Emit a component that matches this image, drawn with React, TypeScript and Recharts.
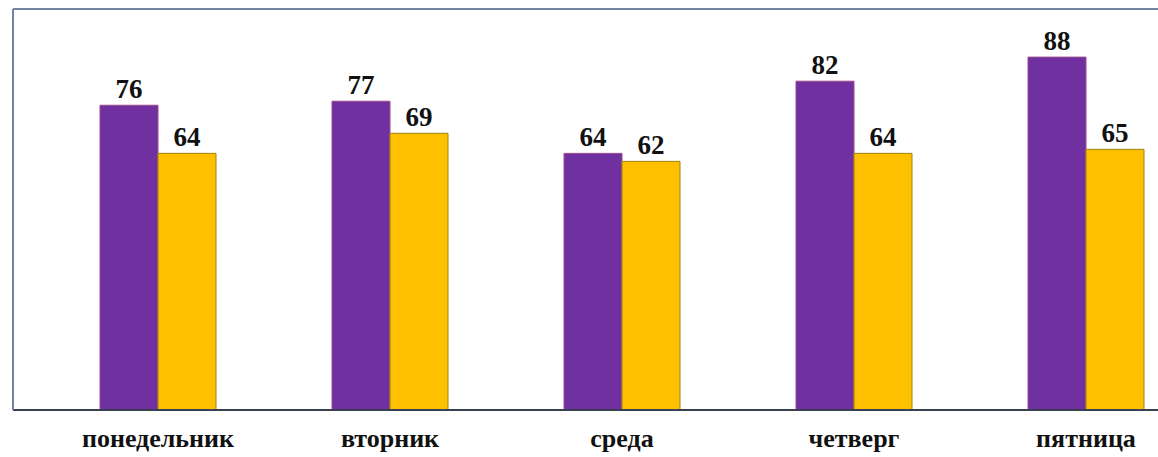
import React from "react";
import { BarChart, Bar, XAxis, YAxis, LabelList } from "recharts";

// days of the week, two series per day
const days = ["понедельник", "вторник", "среда", "четверг", "пятница"];
const firstSeries = [76, 77, 64, 82, 88];
const secondSeries = [64, 69, 62, 64, 65];

const chartData = days.map((day, i) => ({
  day,
  a: firstSeries[i],
  b: secondSeries[i],
}));

const font = '"Liberation Serif", "Times New Roman", serif';

const App: React.FC = () => {
  return (
    <div
      style={{
        position: "absolute",
        left: 0,
        top: 0,
        width: 1158,
        height: 457,
        overflow: "hidden",
        background: "#fff",
      }}
    >
      <BarChart
        width={1231}
        height={457}
        data={chartData}
        margin={{ top: 8, right: 0, bottom: 0, left: 12 }}
        barCategoryGap="25%"
        barGap={0}
      >
        <XAxis
          dataKey="day"
          height={47}
          padding={{ left: 29, right: 29 }}
          axisLine={{ stroke: "#3b3f52", strokeWidth: 2 }}
          tickLine={false}
          tickMargin={13}
          tick={{ fontFamily: font, fontSize: 26, fontWeight: "bold", fill: "#111" }}
        />
        <XAxis
          xAxisId="top"
          dataKey="day"
          orientation="top"
          height={1}
          padding={{ left: 29, right: 29 }}
          tick={false}
          tickLine={false}
          axisLine={{ stroke: "#7483a3", strokeWidth: 2 }}
        />
        <YAxis
          width={1}
          domain={[0, 100]}
          tick={false}
          tickLine={false}
          axisLine={{ stroke: "#7483a3", strokeWidth: 2 }}
        />
        <Bar dataKey="a" fill="#7030a0" stroke="#9a4d8e" strokeWidth={1} isAnimationActive={false}>
          <LabelList
            dataKey="a"
            position="top"
            offset={7}
            style={{ fontFamily: font, fontSize: 27, fontWeight: "bold", fill: "#111" }}
          />
        </Bar>
        <Bar dataKey="b" fill="#ffc000" stroke="#9c8410" strokeWidth={1} isAnimationActive={false}>
          <LabelList
            dataKey="b"
            position="top"
            offset={7}
            style={{ fontFamily: font, fontSize: 27, fontWeight: "bold", fill: "#111" }}
          />
        </Bar>
      </BarChart>
    </div>
  );
};

export default App;
